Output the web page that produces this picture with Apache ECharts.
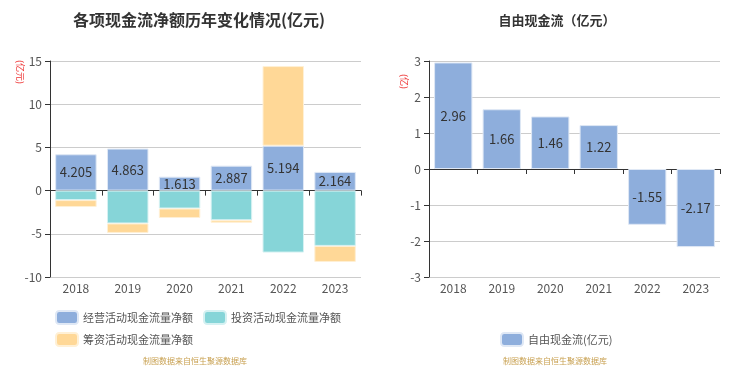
<!DOCTYPE html>
<html><head><meta charset="utf-8">
<script src="https://cdn.jsdelivr.net/npm/echarts@6/dist/echarts.min.js"></script>
<style>html,body{margin:0;padding:0;background:#fff}#c{width:753px;height:374px}</style>
</head><body><div id="c"></div>
<script>
var years = ['2018','2019','2020','2021','2022','2023'];
var operating = [4.205, 4.863, 1.613, 2.887, 5.194, 2.164];
var investing = [-1.1, -3.8, -2.07, -3.43, -7.17, -6.4];
var financing = [-0.8, -1.1, -1.1, -0.3, 9.22, -1.86];
var freeCash = [2.96, 1.66, 1.46, 1.22, -1.55, -2.17];
var leftTicks = {min:-10, max:15, interval:5};
var rightTicks = {min:-3, max:3, interval:1};

var chart = echarts.init(document.getElementById('c'));
var font = '"Noto Sans CJK SC", "Noto Sans", sans-serif';
var axisLabel = {color:'#555', fontSize:12, fontFamily:font};
function yAxis(gi, t){
  return {type:'value', gridIndex:gi, min:t.min, max:t.max, interval:t.interval,
    axisLine:{show:true, lineStyle:{color:'#333'}}, axisTick:{show:true, lineStyle:{color:'#333'}},
    splitLine:{lineStyle:{color:'#ccc'}}, axisLabel:axisLabel};
}
function xAxisLine(gi){
  return {type:'category', gridIndex:gi, data:years,
    axisLine:{onZero:true, lineStyle:{color:'#333'}}, axisTick:{show:true, lineStyle:{color:'#333'}},
    axisLabel:{show:false}};
}
function xAxisLabels(gi){
  return {type:'category', gridIndex:gi, data:years, position:'bottom', offset:0,
    axisLine:{show:false, onZero:false}, axisTick:{show:false},
    axisLabel:Object.assign({}, axisLabel, {margin:5})};
}
var lbl = {show:true, position:'inside', color:'#333', fontSize:13, fontFamily:font};
var legText = {color:'#555', fontSize:11, fontFamily:font};
chart.setOption({
  animation:false,
  textStyle:{fontFamily:font},
  title:[
    {text:'各项现金流净额历年变化情况(亿元)', left:194, top:7, textAlign:'center',
     textStyle:{fontSize:16, fontWeight:'bold', color:'#333', fontFamily:font}},
    {text:'自由现金流（亿元）', left:552, top:9, textAlign:'center',
     textStyle:{fontSize:13, fontWeight:'bold', color:'#333', fontFamily:font}}
  ],
  grid:[
    {left:50, right:392, top:61, bottom:97},
    {left:429, right:33, top:61, bottom:97}
  ],
  xAxis:[xAxisLine(0), xAxisLine(1), xAxisLabels(0), xAxisLabels(1)],
  yAxis:[yAxis(0, leftTicks), yAxis(1, rightTicks)],
  legend:[
    {left:55, top:310, itemWidth:22, itemHeight:13, itemGap:10, padding:0,
     textStyle:legText, data:['经营活动现金流量净额','投资活动现金流量净额']},
    {left:55, top:332, itemWidth:22, itemHeight:13, padding:0,
     textStyle:legText, data:['筹资活动现金流量净额']},
    {left:500, top:332, itemWidth:22, itemHeight:13, padding:0,
     textStyle:legText, data:['自由现金流(亿元)']}
  ],
  graphic:[
    {type:'text', left:16, top:60, rotation:-Math.PI/2, style:{text:'(亿元)', fill:'#e33', font:'9px '+font}},
    {type:'text', left:400, top:74, rotation:-Math.PI/2, style:{text:'(亿)', fill:'#e33', font:'9px '+font}},
    {type:'text', left:143, top:357, style:{text:'制图数据来自恒生聚源数据库', fill:'#c8a050', font:'8px '+font}},
    {type:'text', left:503, top:357, style:{text:'制图数据来自恒生聚源数据库', fill:'#c8a050', font:'8px '+font}}
  ],
  series:[
    {name:'经营活动现金流量净额', type:'bar', stack:'a', xAxisIndex:0, yAxisIndex:0, data:operating, barWidth:'80%',
     itemStyle:{color:'#8EAEDC', borderColor:'#dfe8f5', borderWidth:1}, label:lbl},
    {name:'投资活动现金流量净额', type:'bar', stack:'a', xAxisIndex:0, yAxisIndex:0, data:investing,
     itemStyle:{color:'#86D5D8', borderColor:'#d5f1f2', borderWidth:1}},
    {name:'筹资活动现金流量净额', type:'bar', stack:'a', xAxisIndex:0, yAxisIndex:0, data:financing,
     itemStyle:{color:'#FFD897', borderColor:'#fff0d5', borderWidth:1}},
    {name:'自由现金流(亿元)', type:'bar', xAxisIndex:1, yAxisIndex:1, data:freeCash, barWidth:'79%',
     itemStyle:{color:'#8EAEDC', borderColor:'#dfe8f5', borderWidth:1}, label:lbl}
  ]
});
</script></body></html>
